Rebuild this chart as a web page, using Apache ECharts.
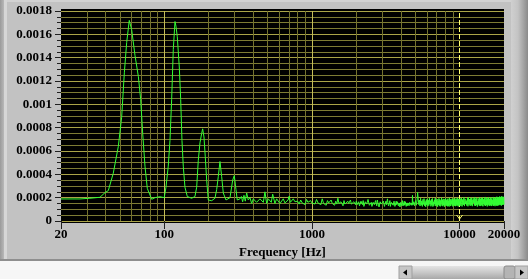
<!DOCTYPE html>
<html><head><meta charset="utf-8">
<script src="https://cdn.jsdelivr.net/npm/echarts@6/dist/echarts.min.js"></script>
<style>html,body{margin:0;padding:0;background:#c2c2c2}#c{width:528px;height:279px}</style>
</head><body><div id="c"></div>
<script>
// ---- data ----
const xTickLabels = ['20', '100', '1000', '10000', '20000'];
const yTickLabels = ['0', '0.0002', '0.0004', '0.0006', '0.0008', '0.001', '0.0012', '0.0014', '0.0016', '0.0018'];
const xAxisName = 'Frequency [Hz]';
const gridMinorFreqs = [30, 40, 50, 60, 70, 80, 90, 200, 300, 400, 500, 600, 700, 800, 900, 2000, 3000, 4000, 5000, 6000, 7000, 8000, 9000];
const gridMajorFreqs = [100, 1000];
const cursorFreqs = [10000];

const peakFreqs = [20, 26.9, 31.4, 36.7, 39.7, 41.8, 45.2, 48.9, 51.5, 53.7, 55.7, 58.0, 60.2, 63.4, 66.8, 69.3, 71.5, 74.1, 76.8, 82.3,
  86.6, 93.6, 100, 102.8, 106.5, 109.4, 112.3, 115.2, 118.3, 120.1, 122.6, 126.5, 129.3, 131.9, 134.6, 138.2, 143.3, 153.4, 161.5, 165.9,
  170.1, 174.6, 179.3, 182.1, 185.9, 189.7, 193.9, 198.8, 209.6, 220.6, 226.6, 232.3, 238.6, 245, 251.2, 262, 278.9, 290.8, 298.2, 306,
  312.4, 319, 325.8, 333, 339.8, 346.8, 354, 361.8, 370.8, 380.8, 391, 401, 411.8, 422, 433.4, 445, 457, 469, 481, 494,
  507, 520, 531, 542.6, 562, 577, 592, 608, 624, 640, 657, 675, 690, 702.6, 715, 729, 748, 768, 788, 800];
const peakValues = [1.89e-4, 1.89e-4, 1.95e-4, 2.03e-4, 2.43e-4, 2.6e-4, 4.1e-4, 6.4e-4, 8.9e-4, 12.7e-4, 15.3e-4, 17.2e-4, 16.4e-4, 14.2e-4, 12.4e-4, 10.4e-4, 7.5e-4, 4.7e-4, 2.8e-4, 1.86e-4,
  2.0e-4, 2.08e-4, 2.0e-4, 2.9e-4, 4.7e-4, 6.9e-4, 10.4e-4, 14.7e-4, 17.1e-4, 16.7e-4, 15.8e-4, 13.2e-4, 10.4e-4, 6.9e-4, 4.7e-4, 2.9e-4, 2.1e-4, 1.95e-4, 2.1e-4, 2.9e-4,
  5.2e-4, 6.7e-4, 7.5e-4, 7.9e-4, 7.2e-4, 5.5e-4, 3.5e-4, 1.8e-4, 1.74e-4, 1.95e-4, 2.7e-4, 3.8e-4, 5.1e-4, 3.8e-4, 2.4e-4, 1.8e-4, 2.0e-4, 3.5e-4, 3.9e-4, 2.7e-4,
  1.8e-4, 1.7e-4, 1.9e-4, 2.1e-4, 1.65e-4, 2.2e-4, 1.7e-4, 2.4e-4, 1.8e-4, 2.0e-4, 1.5e-4, 1.9e-4, 1.8e-4, 1.6e-4, 1.46e-4, 1.9e-4, 1.8e-4, 1.6e-4, 2.5e-4, 1.5e-4,
  1.9e-4, 2.0e-4, 1.6e-4, 2.3e-4, 1.5e-4, 1.9e-4, 1.8e-4, 1.5e-4, 1.6e-4, 1.9e-4, 1.55e-4, 1.5e-4, 1.8e-4, 2.14e-4, 1.6e-4, 1.5e-4, 1.9e-4, 1.65e-4, 1.5e-4, 1.7e-4];

const noiseFreqsA = [820, 840, 860, 880, 900, 920, 940, 960, 980, 1000,
  1025, 1050, 1075, 1100, 1125, 1150, 1175, 1200, 1225, 1250, 1275, 1300, 1325, 1350, 1375, 1400, 1425, 1450, 1475, 1500,
  1525, 1550, 1575, 1600, 1625, 1650, 1675, 1700, 1725, 1750, 1775, 1800, 1825, 1850, 1875, 1900, 1925, 1950, 1975, 2000];
const noiseValuesA = [1.45e-4, 1.80e-4, 1.55e-4, 1.70e-4, 1.40e-4, 1.85e-4, 1.60e-4, 1.50e-4, 1.75e-4, 1.55e-4,
  1.70e-4, 1.45e-4, 1.85e-4, 1.55e-4, 1.60e-4, 1.40e-4, 1.90e-4, 1.50e-4, 1.65e-4, 1.35e-4,
  1.75e-4, 1.55e-4, 1.45e-4, 1.80e-4, 1.50e-4, 1.60e-4, 1.35e-4, 1.70e-4, 1.45e-4, 1.95e-4,
  1.50e-4, 1.40e-4, 1.65e-4, 1.55e-4, 1.30e-4, 1.75e-4, 1.45e-4, 1.60e-4, 1.40e-4, 1.70e-4,
  1.50e-4, 1.35e-4, 1.80e-4, 1.45e-4, 1.55e-4, 1.30e-4, 1.65e-4, 1.50e-4, 1.40e-4, 1.70e-4];

const noiseFreqsB = [2050, 2100, 2150, 2200, 2250, 2300, 2350, 2400, 2450, 2500, 2550, 2600, 2650, 2700, 2750, 2800, 2850, 2900, 2950, 3000,
  3050, 3100, 3150, 3200, 3250, 3300, 3350, 3400, 3450, 3500, 3550, 3600, 3650, 3700, 3750, 3800, 3850, 3900, 3950, 4000,
  4050, 4100, 4150, 4200, 4250, 4300, 4350, 4400, 4450, 4500, 4550, 4600, 4650, 4700, 4750, 4800, 4850, 4900, 4950, 5000];
const noiseValuesB = [1.55e-4, 1.30e-4, 1.70e-4, 1.40e-4, 1.25e-4, 1.65e-4, 1.45e-4, 1.85e-4, 1.35e-4, 1.50e-4,
  1.25e-4, 1.60e-4, 1.40e-4, 1.75e-4, 1.30e-4, 1.55e-4, 1.20e-4, 1.65e-4, 1.45e-4, 1.35e-4,
  1.70e-4, 1.25e-4, 1.50e-4, 1.40e-4, 1.90e-4, 1.30e-4, 1.55e-4, 1.25e-4, 1.60e-4, 1.45e-4,
  1.35e-4, 1.70e-4, 1.25e-4, 1.50e-4, 1.40e-4, 1.65e-4, 1.30e-4, 1.55e-4, 1.20e-4, 1.60e-4,
  1.45e-4, 1.75e-4, 1.30e-4, 1.50e-4, 1.35e-4, 1.65e-4, 1.25e-4, 1.55e-4, 1.40e-4, 1.70e-4,
  1.30e-4, 1.60e-4, 1.45e-4, 1.35e-4, 1.55e-4, 2.20e-4, 1.40e-4, 1.65e-4, 1.30e-4, 1.55e-4];
const noiseFreqsB2 = [2025, 2075, 2125, 2175, 2225, 2275, 2325, 2375, 2425, 2475, 2525, 2575, 2625, 2675, 2725, 2775, 2825, 2875, 2925, 2975,
  3025, 3075, 3125, 3175, 3225, 3275, 3325, 3375, 3425, 3475, 3525, 3575, 3625, 3675, 3725, 3775, 3825, 3875, 3925, 3975,
  4025, 4075, 4125, 4175, 4225, 4275, 4325, 4375, 4425, 4475, 4525, 4575, 4625, 4675, 4725, 4775, 4825, 4875, 4925, 4975];
const noiseValuesB2 = [1.40e-4, 1.65e-4, 1.30e-4, 1.55e-4, 1.75e-4, 1.35e-4, 1.60e-4, 1.30e-4, 1.70e-4, 1.45e-4,
  1.60e-4, 1.35e-4, 1.65e-4, 1.30e-4, 1.50e-4, 1.80e-4, 1.40e-4, 1.35e-4, 1.60e-4, 1.50e-4,
  1.30e-4, 1.65e-4, 1.45e-4, 1.70e-4, 1.35e-4, 1.55e-4, 1.40e-4, 1.75e-4, 1.30e-4, 1.60e-4,
  1.55e-4, 1.35e-4, 1.65e-4, 1.40e-4, 1.70e-4, 1.30e-4, 1.50e-4, 1.40e-4, 1.65e-4, 1.35e-4,
  1.60e-4, 1.30e-4, 1.55e-4, 1.45e-4, 1.70e-4, 1.35e-4, 1.60e-4, 1.40e-4, 1.30e-4, 1.55e-4,
  1.65e-4, 1.35e-4, 1.50e-4, 1.70e-4, 1.40e-4, 1.35e-4, 1.60e-4, 1.35e-4, 1.70e-4, 1.45e-4];

const noiseFreqsC = [5100, 5200, 5300, 5400, 5500, 5600, 5700, 5800, 5900, 6000, 6100, 6200, 6300, 6400, 6500, 6600, 6700, 6800, 6900, 7000,
  7100, 7200, 7300, 7400, 7500, 7600, 7700, 7800, 7900, 8000, 8100, 8200, 8300, 8400, 8500, 8600, 8700, 8800, 8900, 9000,
  9100, 9200, 9300, 9400, 9500, 9600, 9700, 9800, 9900, 10000];
const noiseValuesC = [1.35e-4, 2.45e-4, 1.40e-4,
  1.28e-4, 1.35e-4, 1.25e-4, 1.42e-4, 1.30e-4, 1.22e-4, 1.38e-4, 1.27e-4, 1.33e-4, 1.50e-4,
  1.26e-4, 1.36e-4, 1.24e-4, 1.31e-4, 1.45e-4, 1.28e-4, 1.34e-4, 1.22e-4, 1.39e-4, 1.30e-4,
  1.25e-4, 1.55e-4, 1.32e-4, 1.27e-4, 1.36e-4, 1.23e-4, 1.40e-4, 1.29e-4, 1.34e-4, 1.26e-4,
  1.30e-4, 1.24e-4, 1.38e-4, 1.28e-4, 1.48e-4, 1.33e-4, 1.25e-4, 1.37e-4, 1.29e-4, 1.35e-4,
  1.27e-4, 1.41e-4, 1.30e-4, 1.36e-4, 1.25e-4, 1.39e-4, 1.32e-4];
const noiseFreqsC2 = [5050, 5150, 5250, 5350, 5450, 5550, 5650, 5750, 5850, 5950, 6050, 6150, 6250, 6350, 6450, 6550, 6650, 6750, 6850, 6950,
  7050, 7150, 7250, 7350, 7450, 7550, 7650, 7750, 7850, 7950, 8050, 8150, 8250, 8350, 8450, 8550, 8650, 8750, 8850, 8950,
  9050, 9150, 9250, 9350, 9450, 9550, 9650, 9750, 9850, 9950];
const noiseValuesC2 = [1.75e-4, 1.70e-4, 1.88e-4, 1.80e-4, 1.95e-4, 1.72e-4, 1.85e-4, 1.92e-4, 1.68e-4, 1.83e-4,
  1.90e-4, 1.78e-4, 1.96e-4, 1.74e-4, 1.86e-4, 1.93e-4, 1.65e-4, 1.82e-4, 1.97e-4, 1.79e-4,
  1.88e-4, 1.71e-4, 1.94e-4, 1.84e-4, 1.76e-4, 1.99e-4, 1.81e-4, 1.90e-4, 1.69e-4, 1.87e-4,
  1.95e-4, 1.77e-4, 1.85e-4, 1.92e-4, 1.73e-4, 1.98e-4, 1.83e-4, 1.89e-4, 1.75e-4, 1.94e-4,
  1.86e-4, 1.80e-4, 1.97e-4, 1.78e-4, 1.91e-4, 1.84e-4, 1.99e-4, 1.76e-4, 1.90e-4, 1.88e-4];

const noiseFreqsD = [10200, 10400, 10600, 10800, 11000, 11200, 11400, 11600, 11800, 12000, 12200, 12400, 12600, 12800, 13000, 13200, 13400, 13600, 13800, 14000,
  14200, 14400, 14600, 14800, 15000, 15200, 15400, 15600, 15800, 16000, 16200, 16400, 16600, 16800, 17000, 17200, 17400, 17600, 17800, 18000,
  18200, 18400, 18600, 18800, 19000, 19200, 19400, 19600, 19800, 20000];
const noiseValuesD = [1.30e-4, 1.25e-4, 1.38e-4, 1.28e-4, 1.45e-4, 1.32e-4, 1.26e-4, 1.40e-4, 1.30e-4, 1.35e-4,
  1.27e-4, 1.55e-4, 1.33e-4, 1.29e-4, 1.36e-4, 1.24e-4, 1.42e-4, 1.31e-4, 1.28e-4, 1.37e-4,
  1.30e-4, 1.26e-4, 1.48e-4, 1.34e-4, 1.29e-4, 1.38e-4, 1.25e-4, 1.33e-4, 1.40e-4, 1.30e-4,
  1.36e-4, 1.28e-4, 1.32e-4, 1.45e-4, 1.30e-4, 1.35e-4, 1.27e-4, 1.39e-4, 1.33e-4, 1.30e-4,
  1.38e-4, 1.34e-4, 1.42e-4, 1.36e-4, 1.40e-4, 1.32e-4, 1.45e-4, 1.38e-4, 1.42e-4, 1.40e-4];
const noiseFreqsD2 = [10100, 10300, 10500, 10700, 10900, 11100, 11300, 11500, 11700, 11900, 12100, 12300, 12500, 12700, 12900, 13100, 13300, 13500, 13700, 13900,
  14100, 14300, 14500, 14700, 14900, 15100, 15300, 15500, 15700, 15900, 16100, 16300, 16500, 16700, 16900, 17100, 17300, 17500, 17700, 17900,
  18100, 18300, 18500, 18700, 18900, 19100, 19300, 19500, 19700, 19900];
const noiseValuesD2 = [1.92e-4, 1.98e-4, 1.85e-4, 2.02e-4, 1.90e-4, 1.75e-4, 1.96e-4, 2.04e-4, 1.88e-4, 1.94e-4,
  2.00e-4, 1.82e-4, 1.95e-4, 2.05e-4, 1.89e-4, 1.97e-4, 1.70e-4, 1.93e-4, 2.03e-4, 1.90e-4,
  1.96e-4, 2.01e-4, 1.86e-4, 1.94e-4, 2.06e-4, 1.80e-4, 1.98e-4, 1.92e-4, 2.04e-4, 1.88e-4,
  1.95e-4, 2.02e-4, 1.91e-4, 1.78e-4, 2.06e-4, 1.97e-4, 1.93e-4, 2.03e-4, 1.89e-4, 2.08e-4,
  1.99e-4, 2.05e-4, 1.94e-4, 2.10e-4, 1.98e-4, 2.06e-4, 2.12e-4, 2.00e-4, 2.08e-4, 2.04e-4];

// ---- build ----
const allFreqs = peakFreqs.concat(noiseFreqsA, noiseFreqsB, noiseFreqsB2, noiseFreqsC, noiseFreqsC2, noiseFreqsD, noiseFreqsD2);
const allValues = peakValues.concat(noiseValuesA, noiseValuesB, noiseValuesB2, noiseValuesC, noiseValuesC2, noiseValuesD, noiseValuesD2);
const spectrum = allFreqs.map((f, i) => [f, allValues[i]]).sort((a, b) => a[0] - b[0]);

const FONT = 'Liberation Serif';
const minorStyle = { color: '#74722e', width: 1, type: 'solid' };
const majorStyle = { color: '#c4bc58', width: 1, type: 'solid' };
const cursorStyle = { color: '#ffff70', width: 1, type: [5, 2] };
const vLines = []
  .concat(gridMinorFreqs.map(f => ({ xAxis: f, lineStyle: minorStyle })))
  .concat(gridMajorFreqs.map(f => ({ xAxis: f, lineStyle: majorStyle })))
  .concat(cursorFreqs.map(f => ({ xAxis: f, lineStyle: cursorStyle })));

const chart = echarts.init(document.getElementById('c'), null, { renderer: 'canvas' });
chart.setOption({
  animation: false,
  backgroundColor: '#c2c2c2',
  grid: { left: 61, top: 11, width: 443, height: 210, show: false },
  xAxis: {
    type: 'log', logBase: 10, min: 20, max: 20000,
    name: xAxisName, nameLocation: 'middle', nameGap: 25,
    nameTextStyle: { fontFamily: FONT, fontWeight: 'bold', fontSize: 13, color: '#000' },
    axisLine: { show: false },
    axisTick: { show: true, length: 8, lineStyle: { color: '#202020' } },
    axisLabel: {
      margin: 7, fontFamily: FONT, fontWeight: 'bold', fontSize: 13, color: '#000',
      formatter: v => { const r = String(Math.round(v)); return xTickLabels.indexOf(r) >= 0 ? r : ''; }
    },
    splitLine: { show: false }, minorTick: { show: false }, minorSplitLine: { show: false }
  },
  yAxis: {
    type: 'value', min: 0, max: 0.0018, interval: 0.0002,
    axisLine: { show: false },
    axisTick: { show: true, length: 6, lineStyle: { color: '#202020' } },
    minorTick: { show: true, splitNumber: 4, length: 4, lineStyle: { color: '#202020' } },
    axisLabel: {
      margin: 9, fontFamily: FONT, fontWeight: 'bold', fontSize: 13, color: '#000',
      formatter: v => yTickLabels[Math.round(v / 0.0002)] || ''
    },
    splitLine: { show: true, lineStyle: { color: '#aaa448', width: 1 } },
    minorSplitLine: { show: true, lineStyle: { color: '#7e7c34', width: 1 } }
  },
  graphic: [
    { type: 'rect', z: -10, silent: true, shape: { x: 61, y: 9, width: 443, height: 214 }, style: { fill: '#000' } },
    { type: 'rect', z: -10, silent: true, shape: { x: 0, y: 0, width: 528, height: 2 }, style: { fill: '#d2d2d2' } },
    { type: 'rect', z: -10, silent: true, shape: { x: 0, y: 0, width: 4, height: 260 },
      style: { fill: new echarts.graphic.LinearGradient(0, 0, 1, 0, [{ offset: 0, color: '#9a9a9a' }, { offset: 1, color: '#b8b8b8' }]) } },
    { type: 'rect', z: -10, silent: true, shape: { x: 4, y: 0, width: 3, height: 260 }, style: { fill: '#d6d6d6' } },
    { type: 'rect', z: -10, silent: true, shape: { x: 511, y: 0, width: 17, height: 260 },
      style: { fill: new echarts.graphic.LinearGradient(0, 0, 1, 0, [{ offset: 0, color: '#d0d0d0' }, { offset: 0.4, color: '#c4c4c4' }, { offset: 1, color: '#8a8a8a' }]) } },
    { type: 'rect', z: -10, silent: true, shape: { x: 0, y: 259, width: 528, height: 2 }, style: { fill: '#8e8e8e' } },
    { type: 'rect', z: -10, silent: true, shape: { x: 0, y: 261, width: 528, height: 18 }, style: { fill: '#f6f6f6' } },
    // scrollbar
    { type: 'rect', silent: true, shape: { x: 399, y: 266, width: 129, height: 13 },
      style: { fill: new echarts.graphic.LinearGradient(0, 0, 0, 1, [{ offset: 0, color: '#e4e4e4' }, { offset: 0.5, color: '#c8c8c8' }, { offset: 1, color: '#a8a8a8' }]) } },
    { type: 'rect', silent: true, shape: { x: 399, y: 266, width: 13, height: 13 }, style: { fill: '#c6c6c6', stroke: '#a0a0a0', lineWidth: 1 } },
    { type: 'polygon', silent: true, shape: { points: [[403, 272.5], [407, 269.5], [407, 275.5]] }, style: { fill: '#000' } },
    { type: 'rect', silent: true, shape: { x: 504, y: 266, width: 11, height: 13, r: 2 }, style: { fill: '#b4b4b4', stroke: '#8a8a8a', lineWidth: 1 } },
    { type: 'rect', silent: true, shape: { x: 515, y: 266, width: 13, height: 13 }, style: { fill: '#c6c6c6', stroke: '#a0a0a0', lineWidth: 1 } },
    { type: 'polygon', silent: true, shape: { points: [[524, 272.5], [520, 269.5], [520, 275.5]] }, style: { fill: '#000' } }
  ],
  series: [
    {
      type: 'line', z: 1, data: [], silent: true, symbol: 'none',
      markLine: { silent: true, symbol: ['none', 'none'], label: { show: false }, data: vLines, animation: false },
      markPoint: {
        silent: true, animation: false,
        data: cursorFreqs.map(f => ({ coord: [f, 0], symbol: 'path://M0,0 L4,6 L8,0 M4,6 L4,9', symbolSize: [6, 6], symbolOffset: [0, -3],
          itemStyle: { color: 'rgba(0,0,0,0)', borderColor: '#ffff70', borderWidth: 1 }, label: { show: false } }))
      }
    },
    {
      type: 'line', z: 5, data: spectrum, symbol: 'none', silent: true,
      lineStyle: { color: '#33ff33', width: 1 }
    }
  ]
});
</script></body></html>
